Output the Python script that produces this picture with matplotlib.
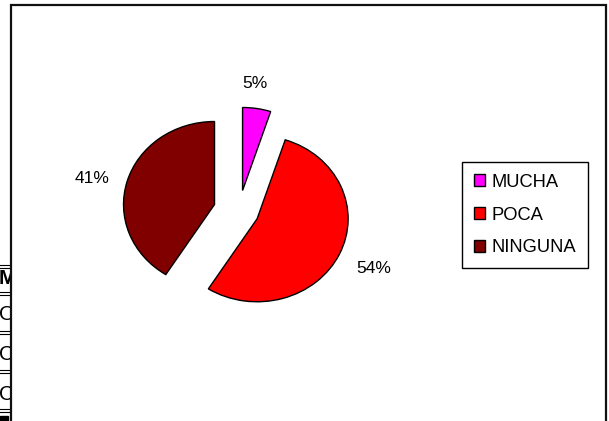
import numpy as np
import matplotlib
matplotlib.use('Agg')
import matplotlib.pyplot as plt
from matplotlib.patches import Rectangle

# datos del gráfico
categorias = ['MUCHA', 'POCA', 'NINGUNA']
porcentajes = [5, 54, 41]
colores = ['#FF00FF', '#FF0000', '#800000']

# fragmento de tabla que asoma por la izquierda
tabla_textos = ['M', 'O', 'C', 'C']

W, H = 609, 421
fig = plt.figure(figsize=(W / 100, H / 100), dpi=100)
fig.patch.set_facecolor('white')
plt.rcParams['font.family'] = ['Liberation Sans', 'DejaVu Sans']

# ejes de la tarta (1 unidad = rx px en x, ry px en y)
cx, cy, rx, ry = 239, 211, 91, 83
ax = fig.add_axes([(cx - 2 * rx) / W, 1 - (cy + 2 * ry) / H, 4 * rx / W, 4 * ry / H])
wedges, _ = ax.pie(porcentajes, colors=colores, startangle=90, counterclock=False,
                   explode=[0.25, 0.22, 0.28],
                   wedgeprops=dict(edgecolor='black', linewidth=1.0))
ax.set_aspect('auto')
ax.set_xlim(-2, 2)
ax.set_ylim(-2, 2)
ax.axis('off')

# etiquetas de porcentaje
distancias = [1.3, 1.42, 1.38]
desvio_ang = [3, 0, 3]
for w, p, d, da in zip(wedges, porcentajes, distancias, desvio_ang):
    ang = np.deg2rad((w.theta1 + w.theta2) / 2 + da)
    x = w.center[0] + d * np.cos(ang)
    y = w.center[1] + d * np.sin(ang)
    ax.text(x, y, f'{p}%', ha='center', va='center', fontsize=12.5, color='black')

# leyenda
leg = fig.legend(wedges, categorias, loc='upper left',
                 bbox_to_anchor=(462 / W, 1 - 162 / H), bbox_transform=fig.transFigure,
                 fontsize=13.2, frameon=True, fancybox=False, shadow=False,
                 handlelength=0.6, handleheight=0.6, handletextpad=0.4,
                 labelspacing=0.87, borderpad=0.63, borderaxespad=0)
leg.get_frame().set_edgecolor('black')
leg.get_frame().set_linewidth(1.0)
leg.get_frame().set_alpha(1)

# marco del gráfico
fig.add_artist(Rectangle((11 / W, -0.05), (606 - 11) / W, 1.05 - 5 / H,
                         transform=fig.transFigure, fill=False,
                         edgecolor='#111111', linewidth=1.6))

# tira de la izquierda con la tabla recortada
ax2 = fig.add_axes([0, 0, 10 / W, 1])
ax2.set_xlim(0, 10)
ax2.set_ylim(H, 0)
ax2.axis('off')
for yl in [266, 293, 332, 371, 410]:
    ax2.plot([0, 10], [yl - 1.5, yl - 1.5], color='black', lw=0.8, clip_on=True)
    ax2.plot([0, 10], [yl + 1.5, yl + 1.5], color='black', lw=0.8, clip_on=True)
for t, yt, bold in zip(tabla_textos, [279, 315, 354, 394], [True, False, False, False]):
    ax2.text(-1, yt, t, ha='left', va='center', fontsize=15,
             fontweight='bold' if bold else 'normal', clip_on=True)
ax2.add_patch(Rectangle((0, 416), 8, 6, color='black', clip_on=True))

fig.savefig('out.png', dpi=100)
